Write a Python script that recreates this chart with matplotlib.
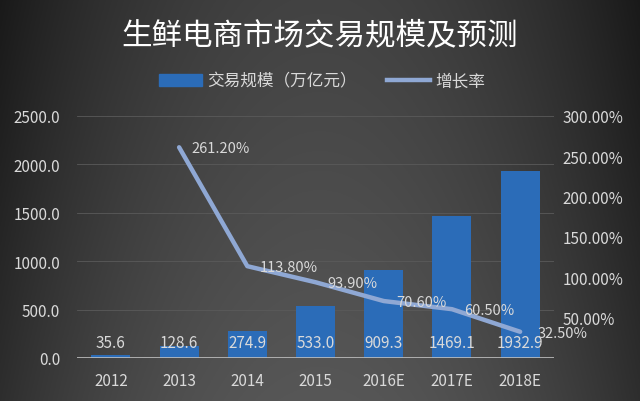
import numpy as np
import matplotlib
matplotlib.use("Agg")
import matplotlib.pyplot as plt
from matplotlib.patches import Patch
from matplotlib.lines import Line2D

plt.rcParams['font.family'] = ['Noto Sans CJK SC', 'DejaVu Sans']

years = ["2012", "2013", "2014", "2015", "2016E", "2017E", "2018E"]
scale = [35.6, 128.6, 274.9, 533.0, 909.3, 1469.1, 1932.9]
growth_years = ["2013", "2014", "2015", "2016E", "2017E", "2018E"]
growth = [261.2, 113.8, 93.9, 70.6, 60.5, 32.5]

txt = "#d9d9d9"
bar_c = "#2b6cb8"
line_c = "#8fa8d4"

fig = plt.figure(figsize=(6.4, 4.02), dpi=100)

# dark background with a lighter middle
bg = fig.add_axes([0, 0, 1, 1])
xx = np.linspace(-1, 1, 400)
yy = np.linspace(-1, 1, 250)
X, Y = np.meshgrid(xx, yy)
g = 0.30 - 0.16 * X**2 + 0.04 * Y
bg.imshow(np.dstack([g, g, g]).clip(0, 1), aspect="auto", extent=[0, 1, 0, 1])
bg.axis("off")

ax = fig.add_axes([0.12, 0.107, 0.746, 0.602])
ax.set_facecolor("none")
x = np.arange(len(years))
ax.bar(x, scale, width=0.57, color=bar_c, zorder=2)
ax.set_ylim(0, 2500)
ax.set_xlim(-0.5, len(years) - 0.5)
ax.set_yticks(np.arange(0, 2501, 500))
ax.set_yticklabels([f"{v:.1f}" for v in np.arange(0, 2501, 500)])
ax.set_xticks(x)
ax.set_xticklabels(years)
ax.grid(axis="y", color="#5a5a5a", linewidth=0.6, zorder=0)
for s in ax.spines.values():
    s.set_visible(False)
ax.axhline(0, color="#bfbfbf", linewidth=1.2, zorder=3)
ax.tick_params(colors=txt, labelsize=11, length=0, pad=10)
ax.tick_params(axis="y", pad=12)
for i, v in enumerate(scale):
    ax.text(i, 160, f"{v:.1f}", ha="center", va="center", color=txt, fontsize=11, zorder=4)

ax2 = ax.twinx()
ax2.set_ylim(0, 300)
ax2.set_yticks(np.arange(0, 301, 50))
ax2.set_yticklabels([""] + [f"{v:.2f}%" for v in np.arange(50, 301, 50)])
for s in ax2.spines.values():
    s.set_visible(False)
ax2.tick_params(colors=txt, labelsize=11, length=0, pad=6)
gx = [years.index(y) for y in growth_years]
ax2.plot(gx, growth, color=line_c, linewidth=3.2, solid_capstyle="round", zorder=5)
for xi, v in zip(gx, growth):
    dx = 0.26 if xi == gx[-1] else 0.18
    ax2.text(xi + dx, v - 1.5, f"{v:.2f}%", ha="left", va="center", color=txt, fontsize=10.5, zorder=6)

fig.text(0.5, 0.91, "生鲜电商市场交易规模及预测", ha="center", va="center",
         color="white", fontsize=22)

handles = [Patch(color=bar_c), Line2D([0], [0], color=line_c, linewidth=3.2)]
fig.legend(handles, ["交易规模（万亿元）", "增长率"], loc="center", bbox_to_anchor=(0.503, 0.796),
           ncol=2, frameon=False, fontsize=12, labelcolor=txt, handlelength=2.6,
           handletextpad=0.3, columnspacing=1.8)

fig.savefig("out.png", dpi=100)
